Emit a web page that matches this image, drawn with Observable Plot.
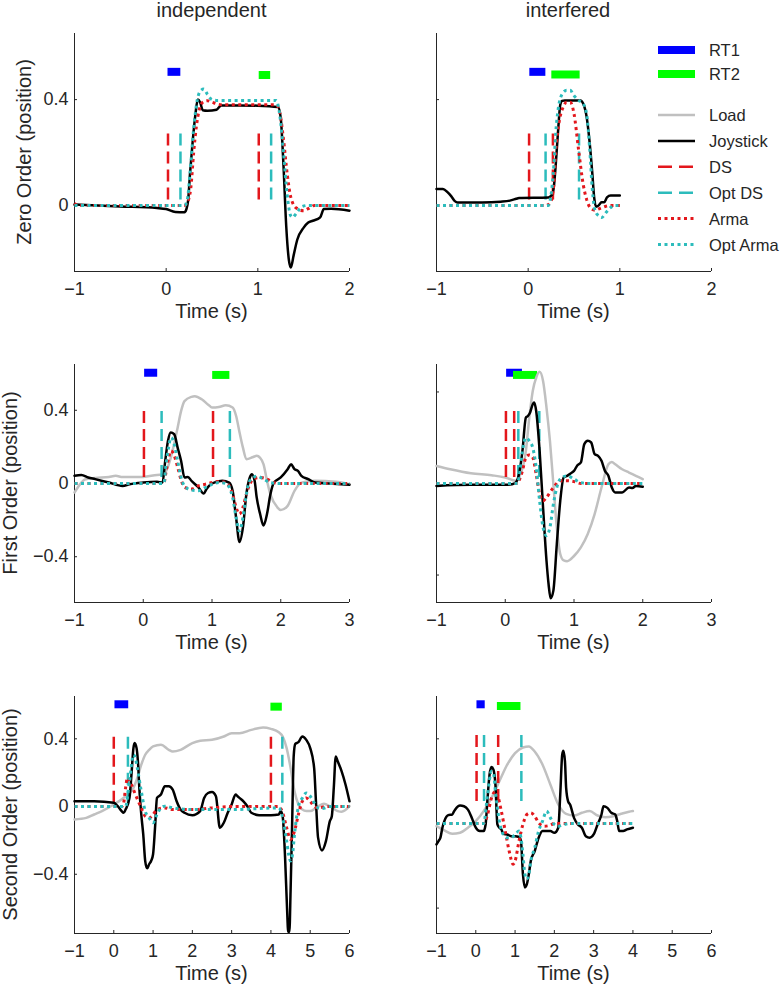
<!DOCTYPE html>
<html>
<head>
<meta charset="utf-8">
<script src="https://cdn.jsdelivr.net/npm/d3@7"></script>
<script src="https://cdn.jsdelivr.net/npm/@observablehq/plot@0.6"></script>
<style>
  html, body { margin: 0; padding: 0; background: #fff; }
  #wrap { position: relative; width: 783px; height: 987px; overflow: hidden; font-family: "Liberation Sans", Arial, sans-serif; }
  #wrap > svg.panel { position: absolute; }
  #overlay { position: absolute; left: 0; top: 0; pointer-events: none; }
</style>
</head>
<body>
<div id="wrap"></div>
<script>
// ---------------- DATA ----------------
const columnTitles = ["independent", "interfered"];
const rowLabels = ["Zero Order (position)", "First Order (position)", "Second Order (position)"];
const xLabel = "Time (s)";
const legendNames = ["RT1", "RT2", "Load", "Joystick", "DS", "Opt DS", "Arma", "Opt Arma"];

const timeTicksRow1 = [-1, 0, 1, 2];
const timeTicksRow2 = [-1, 0, 1, 2, 3];
const timeTicksRow3 = [-1, 0, 1, 2, 3, 4, 5, 6];
const posTicksLeftRow1 = [0, 0.4];
const posTicksLeft = [-0.4, 0, 0.4];
const posTicksRight = [-0.5, 0, 0.5];

// Zero order, independent
const zeroIndJoystick = [[-1,0.003],[-0.5,-0.004],[-0.1,-0.01],[0,-0.014],[0.1,-0.025],[0.2,-0.026],[0.22,-0.015],[0.24,0.02],[0.26,0.119],[0.29,0.245],[0.32,0.347],[0.345,0.4],[0.37,0.39],[0.4,0.36],[0.45,0.358],[0.55,0.362],[0.6,0.378],[0.8,0.378],[1.0,0.377],[1.22,0.372],[1.25,0.33],[1.28,0.15],[1.31,-0.08],[1.34,-0.21],[1.36,-0.235],[1.39,-0.19],[1.43,-0.13],[1.5,-0.084],[1.55,-0.065],[1.6,-0.058],[1.68,-0.045],[1.72,-0.014],[1.8,-0.013],[2.0,-0.02]];
const zeroIndArma = [[-1,0.008],[-0.97,0],[0.2,0],[0.23,0.01],[0.27,0.07],[0.3,0.2],[0.33,0.3],[0.36,0.36],[0.4,0.39],[0.45,0.396],[0.5,0.39],[0.6,0.381],[1.2,0.381],[1.24,0.35],[1.28,0.25],[1.32,0.12],[1.36,0.03],[1.42,-0.01],[1.5,-0.02],[1.55,-0.012],[1.62,0],[2.0,0]];
const zeroIndOptArma = [[-1,0],[0.2,0],[0.23,0.02],[0.26,0.12],[0.3,0.29],[0.34,0.4],[0.38,0.435],[0.41,0.44],[0.45,0.42],[0.5,0.4],[0.55,0.397],[1.2,0.397],[1.24,0.34],[1.28,0.2],[1.32,0.04],[1.36,-0.04],[1.38,-0.045],[1.42,-0.03],[1.48,-0.005],[1.55,0],[2.0,0]];
const zeroIndDS = [0.02, 1.01];
const zeroIndOptDS = [0.156, 1.145];
const zeroIndMarkerSpan = [0.02, 0.285];
const zeroIndRT1 = [0.02, 0.16, 0.505];
const zeroIndRT2 = [1.015, 1.14, 0.493];

// Zero order, interfered
const zeroIntJoystick = [[-1,0.062],[-0.93,0.062],[-0.88,0.05],[-0.84,0.035],[-0.8,0.016],[-0.77,0.011],[-0.5,0.011],[-0.3,0.014],[-0.2,0.018],[-0.13,0.025],[-0.1,0.028],[0.22,0.03],[0.26,0.04],[0.28,0.07],[0.3,0.15],[0.33,0.3],[0.35,0.38],[0.37,0.395],[0.4,0.397],[0.57,0.397],[0.6,0.385],[0.64,0.33],[0.67,0.24],[0.7,0.12],[0.72,0.03],[0.74,-0.005],[0.77,0],[0.8,0.012],[0.83,0.012],[0.86,0.03],[0.9,0.037],[1.0,0.037]];
const zeroIntArma = [[-1,0],[0.2,0],[0.25,0.018],[0.28,0.08],[0.3,0.2],[0.34,0.32],[0.38,0.37],[0.42,0.39],[0.46,0.39],[0.5,0.347],[0.55,0.21],[0.6,0.08],[0.64,0.02],[0.68,-0.01],[0.73,-0.018],[0.78,-0.012],[0.85,-0.003],[0.9,0],[1.0,0]];
const zeroIntOptArma = [[-1,0],[0.22,0],[0.25,0.04],[0.28,0.15],[0.3,0.27],[0.33,0.37],[0.37,0.42],[0.42,0.435],[0.46,0.435],[0.5,0.415],[0.55,0.397],[0.6,0.385],[0.64,0.34],[0.67,0.22],[0.7,0.06],[0.73,-0.02],[0.77,-0.04],[0.8,-0.046],[0.85,-0.027],[0.9,-0.008],[0.95,0],[1.0,0]];
const zeroIntDS = [0.01, 0.27];
const zeroIntOptDS = [0.19, 0.555];
const zeroIntMarkerSpan = [0.02, 0.286];
const zeroIntRT1 = [0.018, 0.193, 0.505];
const zeroIntRT2 = [0.258, 0.567, 0.495];

// First order, independent
const firstIndLoad = [[-1,-0.049],[-0.95,-0.02],[-0.9,0.005],[-0.85,0.022],[-0.7,0.03],[-0.5,0.036],[-0.4,0.042],[-0.3,0.035],[0,0.036],[0.2,0.047],[0.3,0.05],[0.4,0.14],[0.5,0.305],[0.55,0.395],[0.6,0.45],[0.7,0.473],[0.75,0.476],[0.85,0.46],[0.95,0.429],[1.0,0.415],[1.1,0.418],[1.2,0.427],[1.3,0.415],[1.35,0.37],[1.4,0.28],[1.45,0.196],[1.5,0.133],[1.6,0.145],[1.65,0.151],[1.7,0.14],[1.75,0.105],[1.8,0.015],[1.85,-0.06],[1.95,-0.13],[2.0,-0.145],[2.1,-0.122],[2.2,-0.04],[2.3,0.005],[2.5,0.015],[2.8,0.009],[3.0,-0.004]];
const firstIndJoystick = [[-1,0.042],[-0.9,0.047],[-0.8,0.033],[-0.7,0.024],[-0.5,0.005],[-0.3,-0.013],[-0.2,-0.004],[0,0.005],[0.2,0.009],[0.28,0.005],[0.32,0.125],[0.36,0.233],[0.4,0.278],[0.45,0.269],[0.5,0.196],[0.55,0.124],[0.6,0.033],[0.65,0.036],[0.7,0.015],[0.8,-0.02],[0.88,-0.055],[0.92,-0.03],[1.0,0],[1.15,0.015],[1.25,0.005],[1.3,-0.04],[1.35,-0.185],[1.4,-0.32],[1.45,-0.24],[1.5,-0.058],[1.55,0.033],[1.58,0.051],[1.62,0.015],[1.65,-0.076],[1.7,-0.167],[1.75,-0.23],[1.8,-0.167],[1.85,-0.058],[1.9,0.005],[2.0,0.033],[2.1,0.078],[2.15,0.105],[2.2,0.078],[2.25,0.069],[2.3,0.042],[2.4,0.024],[2.5,0.005],[2.7,0],[3.0,-0.007]];
const firstIndArma = [[-1,0],[0.3,0],[0.33,0.06],[0.37,0.14],[0.4,0.178],[0.43,0.17],[0.5,0.09],[0.55,0.02],[0.6,-0.02],[0.7,-0.03],[0.8,-0.013],[0.9,-0.004],[1.0,0.005],[1.1,0.011],[1.2,0.005],[1.3,-0.058],[1.35,-0.13],[1.4,-0.167],[1.45,-0.13],[1.5,-0.058],[1.55,-0.004],[1.6,0.024],[1.7,0.033],[1.8,0.024],[1.9,0.005],[2.0,0],[3.0,0]];
const firstIndOptArma = [[-1,0],[0.3,0],[0.33,0.1],[0.37,0.2],[0.4,0.25],[0.43,0.24],[0.5,0.124],[0.55,0.033],[0.6,-0.013],[0.7,-0.036],[0.8,-0.04],[0.9,-0.022],[1.0,-0.004],[1.1,0.005],[1.2,0],[1.3,-0.076],[1.35,-0.185],[1.4,-0.26],[1.45,-0.185],[1.5,-0.058],[1.55,0.015],[1.6,0.033],[1.65,0.04],[1.75,0.024],[1.85,0.005],[2.0,0],[3.0,0]];
const firstIndDS = [0.01, 1.015];
const firstIndOptDS = [0.267, 1.26];
const firstIndMarkerSpan = [0.033, 0.415];
const firstIndRT1 = [0.02, 0.21, 0.605];
const firstIndRT2 = [1.01, 1.26, 0.593];

// First order, interfered
const firstIntLoad = [[-1,0.096],[-0.8,0.078],[-0.5,0.056],[-0.2,0.045],[0,0.033],[0.15,0.015],[0.2,0.033],[0.3,0.178],[0.35,0.36],[0.4,0.505],[0.45,0.578],[0.5,0.61],[0.55,0.56],[0.6,0.415],[0.65,0.233],[0.7,-0.004],[0.75,-0.24],[0.8,-0.385],[0.85,-0.42],[0.9,-0.424],[1.0,-0.396],[1.1,-0.349],[1.2,-0.276],[1.3,-0.167],[1.4,-0.022],[1.5,0.105],[1.55,0.118],[1.6,0.105],[1.7,0.078],[1.8,0.06],[1.9,0.042],[2.0,0.024]];
const firstIntJoystick = [[-1,-0.013],[-0.5,-0.007],[0,-0.007],[0.1,-0.004],[0.15,0.005],[0.2,0.051],[0.25,0.178],[0.3,0.36],[0.33,0.369],[0.36,0.387],[0.4,0.433],[0.42,0.442],[0.45,0.396],[0.5,0.178],[0.55,-0.131],[0.6,-0.422],[0.63,-0.549],[0.66,-0.627],[0.7,-0.585],[0.75,-0.331],[0.8,-0.095],[0.85,0.033],[0.9,0.042],[0.95,0.055],[1.0,0.069],[1.05,0.1],[1.1,0.115],[1.15,0.215],[1.2,0.233],[1.25,0.224],[1.3,0.16],[1.35,0.151],[1.4,0.124],[1.45,0.069],[1.5,0.042],[1.55,-0.022],[1.6,-0.049],[1.7,-0.049],[1.8,-0.022],[1.85,-0.025],[1.9,-0.013],[2.0,-0.018]];
const firstIntArma = [[-1,0],[0.18,0],[0.2,0.015],[0.25,0.069],[0.3,0.142],[0.35,0.156],[0.4,0.142],[0.45,0.051],[0.5,-0.058],[0.55,-0.095],[0.6,-0.076],[0.7,-0.022],[0.8,0.015],[0.9,0.015],[1.0,0.011],[1.1,0],[2.0,0]];
const firstIntOptArma = [[-1,0],[0.18,0],[0.2,0.033],[0.25,0.178],[0.3,0.25],[0.35,0.233],[0.4,0.196],[0.45,0.087],[0.5,-0.095],[0.55,-0.24],[0.6,-0.285],[0.65,-0.24],[0.7,-0.113],[0.75,-0.022],[0.8,0.024],[0.9,0.042],[1.0,0.024],[1.1,0.005],[1.2,0],[2.0,0]];
const firstIntDS = [0.01, 0.13];
const firstIntOptDS = [0.19, 0.495];
const firstIntMarkerSpan = [0.033, 0.415];
const firstIntRT1 = [0.02, 0.25, 0.605];
const firstIntRT2 = [0.12, 0.47, 0.593];

// Second order, independent
const secondIndLoad = [[-1,-0.076],[-0.7,-0.067],[-0.5,-0.047],[-0.3,-0.027],[0,0.012],[0.3,0.061],[0.5,0.11],[0.6,0.169],[0.7,0.247],[0.8,0.306],[0.9,0.335],[1.0,0.355],[1.2,0.365],[1.4,0.335],[1.5,0.325],[1.7,0.335],[2.0,0.375],[2.2,0.388],[2.5,0.394],[2.8,0.414],[3.0,0.433],[3.2,0.433],[3.5,0.453],[3.8,0.467],[4.0,0.459],[4.2,0.439],[4.3,0.414],[4.4,0.345],[4.5,0.229],[4.6,0.09],[4.7,0.012],[4.8,-0.018],[4.9,-0.027],[5.0,-0.027],[5.2,0.002],[5.35,0.016],[5.5,0.002],[5.7,-0.027],[5.8,-0.031],[6.0,0.002]];
const secondIndJoystick = [[-1,0.031],[-0.5,0.031],[0,0.022],[0.1,0.002],[0.2,-0.027],[0.25,-0.037],[0.3,-0.018],[0.4,0.051],[0.45,0.188],[0.5,0.345],[0.53,0.375],[0.58,0.345],[0.62,0.247],[0.65,0.11],[0.7,-0.047],[0.75,-0.165],[0.8,-0.322],[0.85,-0.365],[0.9,-0.341],[0.95,-0.322],[1.0,-0.282],[1.05,-0.125],[1.1,0.051],[1.2,0.071],[1.3,0.12],[1.4,0.12],[1.5,0.1],[1.6,0.031],[1.7,-0.018],[1.8,-0.037],[2.0,-0.051],[2.2,-0.027],[2.3,0.051],[2.4,0.08],[2.5,0.086],[2.6,0.061],[2.7,-0.125],[2.8,-0.096],[2.9,-0.037],[3.0,0.012],[3.1,0.071],[3.15,0.061],[3.2,0.051],[3.3,0.031],[3.4,0.002],[3.5,-0.037],[3.7,-0.051],[4.0,-0.051],[4.2,-0.047],[4.25,-0.027],[4.3,-0.06],[4.36,-0.3],[4.41,-0.6],[4.44,-0.74],[4.47,-0.74],[4.5,-0.5],[4.54,-0.1],[4.58,0.3],[4.62,0.37],[4.7,0.38],[4.8,0.414],[4.9,0.394],[5.0,0.345],[5.1,0.227],[5.15,0.012],[5.2,-0.184],[5.3,-0.259],[5.4,-0.204],[5.5,-0.086],[5.55,-0.057],[5.6,0.11],[5.65,0.296],[5.7,0.267],[5.8,0.208],[5.9,0.129],[6.0,0.031]];
const secondIndArma = [[-1,0],[0.2,0],[0.25,0.02],[0.3,0.11],[0.35,0.17],[0.45,0.129],[0.55,0.071],[0.7,-0.008],[0.8,-0.057],[0.9,-0.067],[1.0,-0.047],[1.1,-0.018],[1.3,-0.008],[1.5,-0.018],[2.0,-0.018],[2.5,-0.008],[3.0,0],[4.2,0],[4.3,-0.037],[4.4,-0.125],[4.5,-0.194],[4.6,-0.145],[4.7,-0.047],[4.8,0.031],[4.9,0.051],[5.0,0.031],[5.1,0.002],[5.2,-0.008],[5.4,0],[6.0,0]];
const secondIndOptArma = [[-1,0],[0.3,0],[0.4,0.149],[0.5,0.306],[0.55,0.286],[0.6,0.227],[0.7,0.09],[0.8,-0.027],[0.9,-0.067],[1.0,-0.096],[1.1,-0.047],[1.2,-0.008],[1.3,0.002],[1.5,-0.008],[2.0,-0.018],[2.5,-0.018],[3.0,-0.018],[4.2,-0.008],[4.3,-0.067],[4.4,-0.204],[4.45,-0.282],[4.5,-0.322],[4.55,-0.282],[4.6,-0.165],[4.7,0],[4.8,0.051],[4.9,0.08],[5.0,0.061],[5.1,0.022],[5.2,-0.008],[5.3,-0.012],[5.5,0],[6.0,0]];
const secondIndDS = [0.0, 4.0];
const secondIndOptDS = [0.36, 4.29];
const secondIndMarkerSpan = [0.02, 0.443];
const secondIndRT1 = [0.03, 0.38, 0.604];
const secondIndRT2 = [4.0, 4.29, 0.59];

// Second order, interfered
const secondIntLoad = [[-1,-0.016],[-0.8,-0.041],[-0.6,-0.061],[-0.4,-0.055],[-0.2,-0.025],[0,0.014],[0.2,0.073],[0.4,0.151],[0.6,0.249],[0.8,0.347],[1.0,0.416],[1.2,0.449],[1.35,0.455],[1.5,0.425],[1.7,0.347],[1.9,0.229],[2.1,0.112],[2.3,0.057],[2.5,0.047],[2.7,0.063],[2.9,0.073],[3.1,0.047],[3.3,0.037],[3.5,0.043],[3.7,0.057],[3.9,0.069],[4.0,0.073]];
const secondIntJoystick = [[-1,-0.124],[-0.95,-0.104],[-0.9,-0.084],[-0.85,-0.025],[-0.8,0.014],[-0.7,0.049],[-0.6,0.053],[-0.55,0.073],[-0.45,0.102],[-0.4,0.106],[-0.3,0.102],[-0.2,0.082],[-0.1,0.033],[0,-0.025],[0.1,-0.045],[0.2,-0.045],[0.25,-0.006],[0.3,0.151],[0.35,0.288],[0.4,0.333],[0.45,0.318],[0.5,0.229],[0.55,-0.006],[0.6,-0.025],[0.65,-0.035],[0.7,-0.061],[0.8,-0.065],[0.9,-0.075],[1.0,-0.075],[1.1,-0.08],[1.15,-0.104],[1.2,-0.3],[1.25,-0.378],[1.3,-0.359],[1.35,-0.3],[1.4,-0.222],[1.5,-0.163],[1.6,-0.084],[1.7,-0.045],[1.8,-0.045],[1.9,-0.045],[2.0,-0.055],[2.1,-0.025],[2.15,0.171],[2.2,0.406],[2.23,0.429],[2.27,0.367],[2.3,0.21],[2.35,0.131],[2.4,0.112],[2.5,0.033],[2.6,-0.006],[2.7,-0.025],[2.8,-0.075],[2.9,-0.084],[3.0,-0.065],[3.1,-0.006],[3.2,0.053],[3.25,0.102],[3.35,0.092],[3.45,0.063],[3.55,0.053],[3.6,0.014],[3.65,-0.045],[3.75,-0.045],[3.85,-0.035],[4.0,-0.025]];
const secondIntArma = [[-1,0],[0.2,0],[0.3,0.053],[0.4,0.151],[0.5,0.19],[0.55,0.171],[0.65,0.073],[0.75,-0.045],[0.85,-0.163],[0.95,-0.241],[1.0,-0.222],[1.1,-0.104],[1.2,-0.006],[1.3,0.053],[1.4,0.063],[1.5,0.043],[1.6,0.004],[1.75,-0.016],[1.9,-0.01],[2.0,0],[4.0,0]];
const secondIntOptArma = [[-1,0],[0.2,0],[0.3,0.171],[0.4,0.308],[0.45,0.298],[0.5,0.19],[0.6,0.014],[0.7,-0.065],[0.8,-0.084],[0.9,-0.084],[1.0,-0.065],[1.1,-0.045],[1.15,-0.084],[1.2,-0.182],[1.25,-0.3],[1.3,-0.329],[1.35,-0.3],[1.4,-0.222],[1.5,-0.143],[1.6,-0.045],[1.7,0.014],[1.8,0.073],[1.9,0.033],[2.0,-0.006],[2.1,-0.016],[2.2,-0.01],[2.4,0],[4.0,0]];
const secondIntDS = [0.02, 0.57];
const secondIntOptDS = [0.21, 1.16];
const secondIntMarkerSpan = [0.13, 0.543];
const secondIntRT1 = [0.03, 0.24, 0.704];
const secondIntRT2 = [0.55, 1.15, 0.694];

// ---------------- STYLE ----------------
const C = {
  rt1: "#0000ff", rt2: "#00ff00", load: "#c0c0c0", joy: "#000000",
  red: "#e3171c", cyan: "#2cbcbc", axis: "#262626"
};
const FONT = "'Liberation Sans', Arial, Helvetica, sans-serif";
const numFmt = d => (d < 0 ? "\u2212" : "") + String(Math.abs(d));

const wrap = document.getElementById("wrap");

function panel(cfg) {
  const [x0] = cfg.xDomain;
  const [y0] = cfg.yDomain;
  const line = (data, stroke, extra) => Plot.line(data, {x: d => d[0], y: d => d[1], stroke, curve: "monotone-x", strokeLinejoin: "round", ...extra});
  const marks = [
    Plot.ruleX([x0], {stroke: C.axis, strokeWidth: 1}),
    Plot.ruleY([y0], {stroke: C.axis, strokeWidth: 1}),
    Plot.axisX({ticks: cfg.xTicks, tickFormat: numFmt, tickSize: -3, tickPadding: 14, label: null, stroke: C.axis, fill: C.axis}),
    Plot.axisY({ticks: cfg.yTicks, tickSize: -3, tickPadding: 9, label: null, stroke: C.axis, fill: C.axis,
      tickFormat: cfg.yLabels ? numFmt : () => ""}),
    Plot.ruleY([cfg.rt1], {x1: d => d[0], x2: d => d[1], y: d => d[2], stroke: C.rt1, strokeWidth: 8, strokeLinecap: "butt"}),
    Plot.ruleY([cfg.rt2], {x1: d => d[0], x2: d => d[1], y: d => d[2], stroke: C.rt2, strokeWidth: 8, strokeLinecap: "butt"}),
  ];
  if (cfg.load) marks.push(line(cfg.load, C.load, {strokeWidth: 2.5}));
  marks.push(
    Plot.ruleX(cfg.ds, {x: d => d, y1: cfg.span[0], y2: cfg.span[1], stroke: C.red, strokeWidth: 2.5, strokeDasharray: "12,6", strokeLinecap: "butt"}),
    Plot.ruleX(cfg.optDs, {x: d => d, y1: cfg.span[0], y2: cfg.span[1], stroke: C.cyan, strokeWidth: 2.5, strokeDasharray: "12,6", strokeLinecap: "butt"}),
    line(cfg.joy, C.joy, {strokeWidth: 2.5}),
    line(cfg.arma, C.red, {strokeWidth: 3, strokeDasharray: "3,3.5", strokeLinecap: "butt", strokeLinejoin: "miter"}),
    line(cfg.optArma, C.cyan, {strokeWidth: 3, strokeDasharray: "3,3.5", strokeLinecap: "butt", strokeLinejoin: "miter"})
  );
  const svg = Plot.plot({
    width: cfg.width, height: cfg.height,
    marginLeft: cfg.ml, marginRight: cfg.mr, marginTop: cfg.mt, marginBottom: cfg.mb,
    style: {fontFamily: FONT, fontSize: "18px", color: C.axis, background: "transparent", overflow: "visible"},
    x: {domain: cfg.xDomain},
    y: {domain: cfg.yDomain},
    marks
  });
  svg.classList.add("panel");
  svg.style.left = cfg.left + "px";
  svg.style.top = cfg.top + "px";
  wrap.appendChild(svg);
}

const rows = [
  {top: 0, height: 330, mt: 33, mb: 59},
  {top: 330, height: 330, mt: 34, mb: 58},
  {top: 660, height: 327, mt: 36, mb: 54}
];
const cols = [
  {left: 0, width: 390, ml: 74, mr: 41},
  {left: 390, width: 393, ml: 46, mr: 72}
];

const panels = [
  {r: 0, c: 0, xDomain: [-1, 2], yDomain: [-0.25, 0.65], xTicks: timeTicksRow1, yTicks: posTicksLeftRow1, yLabels: true,
   joy: zeroIndJoystick, arma: zeroIndArma, optArma: zeroIndOptArma, ds: zeroIndDS, optDs: zeroIndOptDS, span: zeroIndMarkerSpan, rt1: zeroIndRT1, rt2: zeroIndRT2},
  {r: 0, c: 1, xDomain: [-1, 2], yDomain: [-0.25, 0.65], xTicks: timeTicksRow1, yTicks: posTicksLeftRow1, yLabels: false,
   joy: zeroIntJoystick, arma: zeroIntArma, optArma: zeroIntOptArma, ds: zeroIntDS, optDs: zeroIntOptDS, span: zeroIntMarkerSpan, rt1: zeroIntRT1, rt2: zeroIntRT2},
  {r: 1, c: 0, xDomain: [-1, 3], yDomain: [-0.65, 0.65], xTicks: timeTicksRow2, yTicks: posTicksLeft, yLabels: true,
   load: firstIndLoad, joy: firstIndJoystick, arma: firstIndArma, optArma: firstIndOptArma, ds: firstIndDS, optDs: firstIndOptDS, span: firstIndMarkerSpan, rt1: firstIndRT1, rt2: firstIndRT2},
  {r: 1, c: 1, xDomain: [-1, 3], yDomain: [-0.65, 0.65], xTicks: timeTicksRow2, yTicks: posTicksRight, yLabels: false,
   load: firstIntLoad, joy: firstIntJoystick, arma: firstIntArma, optArma: firstIntOptArma, ds: firstIntDS, optDs: firstIntOptDS, span: firstIntMarkerSpan, rt1: firstIntRT1, rt2: firstIntRT2},
  {r: 2, c: 0, xDomain: [-1, 6], yDomain: [-0.75, 0.65], xTicks: timeTicksRow3, yTicks: posTicksLeft, yLabels: true,
   load: secondIndLoad, joy: secondIndJoystick, arma: secondIndArma, optArma: secondIndOptArma, ds: secondIndDS, optDs: secondIndOptDS, span: secondIndMarkerSpan, rt1: secondIndRT1, rt2: secondIndRT2},
  {r: 2, c: 1, xDomain: [-1, 6], yDomain: [-0.65, 0.75], xTicks: timeTicksRow3, yTicks: posTicksRight, yLabels: false,
   load: secondIntLoad, joy: secondIntJoystick, arma: secondIntArma, optArma: secondIntOptArma, ds: secondIntDS, optDs: secondIntOptDS, span: secondIntMarkerSpan, rt1: secondIntRT1, rt2: secondIntRT2}
];

for (const p of panels) panel({...p, ...rows[p.r], ...cols[p.c]});

// ---------------- TEXT OVERLAY & LEGEND ----------------
const ov = d3.select(wrap).append("svg").attr("id", "overlay")
  .attr("width", 783).attr("height", 987)
  .style("font-family", FONT).style("fill", C.axis);

const colCenters = [211.5, 568];
const titleBase = 16.5;
columnTitles.forEach((t, i) => ov.append("text").attr("x", colCenters[i]).attr("y", titleBase)
  .attr("text-anchor", "middle").attr("font-size", 20).text(t));

const axisBottoms = rows.map(r => r.top + r.height - r.mb);
const axisTops = rows.map(r => r.top + r.mt);
const plotCentersX = cols.map(c => c.left + c.ml + (c.width - c.ml - c.mr) / 2);
axisBottoms.forEach(yb => plotCentersX.forEach(xc =>
  ov.append("text").attr("x", xc).attr("y", yb + 47).attr("text-anchor", "middle").attr("font-size", 20).text(xLabel)));

const yLabelX = [31, 17, 17];
rowLabels.forEach((t, i) => {
  const yc = (axisTops[i] + axisBottoms[i]) / 2;
  ov.append("text").attr("transform", `translate(${yLabelX[i]},${yc}) rotate(-90)`)
    .attr("text-anchor", "middle").attr("font-size", 20).text(t);
});

// legend
const legendStyles = [
  {stroke: C.rt1, w: 8}, {stroke: C.rt2, w: 8},
  {stroke: C.load, w: 2.5}, {stroke: C.joy, w: 2.5},
  {stroke: C.red, w: 2.5, dash: "14,7"}, {stroke: C.cyan, w: 2.5, dash: "14,7"},
  {stroke: C.red, w: 3, dash: "3,3.5"}, {stroke: C.cyan, w: 3, dash: "3,3.5"}
];
const legendY = i => (i < 2 ? 50 + i * 24 : 115 + (i - 2) * 25.9);
const lg = ov.append("g");
lg.append("rect").attr("x", 650).attr("y", 36).attr("width", 133).attr("height", 222).attr("fill", "#fff");
legendNames.forEach((name, i) => {
  const y = legendY(i);
  const s = legendStyles[i];
  lg.append("line").attr("x1", 658).attr("x2", 695).attr("y1", y).attr("y2", y)
    .attr("stroke", s.stroke).attr("stroke-width", s.w).attr("stroke-dasharray", s.dash || null);
  lg.append("text").attr("x", 709).attr("y", y + 6).attr("font-size", 16.5).text(name);
});
</script>
</body>
</html>
